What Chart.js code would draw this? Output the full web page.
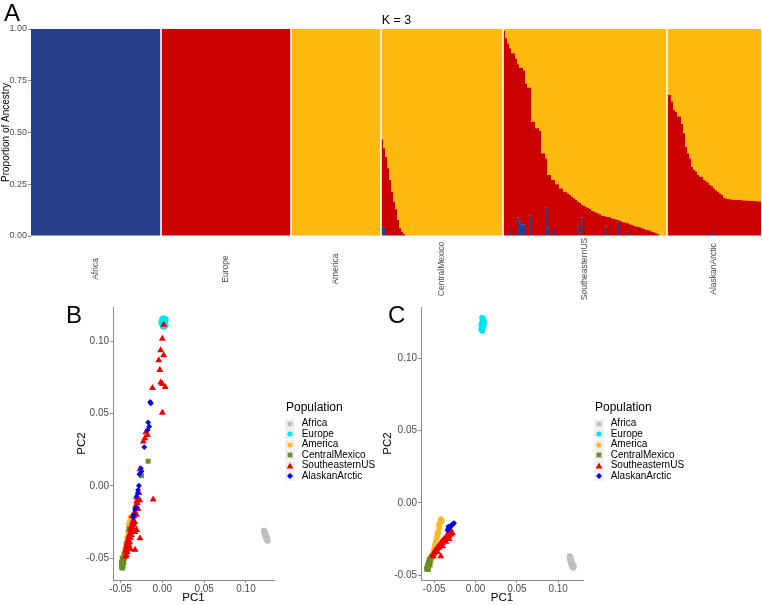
<!DOCTYPE html>
<html><head><meta charset="utf-8">
<script src="https://cdn.jsdelivr.net/npm/chart.js@4.4.1/dist/chart.umd.min.js"></script>
<style>
html,body{margin:0;padding:0;background:#fff;width:762px;height:605px;overflow:hidden;font-family:'Liberation Sans',Arial,Helvetica,sans-serif}
canvas{position:absolute}
.plabel{position:absolute;font-size:24px;line-height:24px;color:#000}
#ktitle{position:absolute;left:31px;width:731px;top:14px;font-size:12.5px;line-height:12.5px;text-align:center;color:#000}
.legend{position:absolute;color:#000;white-space:nowrap}
.ltitle{font-size:12px;line-height:14px;height:14px;margin-bottom:4.75px;padding-left:1px}
.litem{height:10.5px;font-size:10px;line-height:10.5px;display:flex;align-items:center}
.litem svg{background:#f0f0f0;margin-right:6.7px;flex:none}
</style></head><body>
<canvas id="cA" width="762" height="305" style="left:0;top:0"></canvas>
<canvas id="cB" width="381" height="305" style="left:0;top:300px"></canvas>
<canvas id="cC" width="381" height="305" style="left:381px;top:300px"></canvas>
<div class="plabel" style="left:4px;top:1px">A</div>
<div class="plabel" style="left:66px;top:303px">B</div>
<div class="plabel" style="left:388px;top:303px">C</div>
<div id="ktitle">K = 3</div>
<script>
// ---------- Panel A: ADMIXTURE proportions (K = 3), one bar per individual ----------
const groupNames = ['Africa','Europe','America','CentralMexico','SoutheasternUS','AlaskanArctic'];
const ancestryColors = ['#27408b','#cd0000','#ffb90f']; // K1 (blue), K2 (red), K3 (orange)

const africaBlue = [1,1,1,1,1,1,1,1,1,1, 1,1,1,1,1,1,1,1,1,1, 1,1,1,1,1,1,1,1,1,1, 1,1,1,1,1,1,1,1,1,1, 1,1,1,1,1,1,1,1,1,1, 1,1,1,1,1,1,1,1,1,1, 1,1,1,1,1];
const africaRed  = [0,0,0,0,0,0,0,0,0,0, 0,0,0,0,0,0,0,0,0,0, 0,0,0,0,0,0,0,0,0,0, 0,0,0,0,0,0,0,0,0,0, 0,0,0,0,0,0,0,0,0,0, 0,0,0,0,0,0,0,0,0,0, 0,0,0,0,0];
const europeBlue = [0,0,0,0,0,0,0,0,0,0, 0,0,0,0,0,0,0,0,0,0, 0,0,0,0,0,0,0,0,0,0, 0,0,0,0,0,0,0,0,0,0, 0,0,0,0,0,0,0,0,0,0, 0,0,0,0,0,0,0,0,0,0, 0,0,0,0,0];
const europeRed  = [1,1,1,1,1,1,1,1,1,1, 1,1,1,1,1,1,1,1,1,1, 1,1,1,1,1,1,1,1,1,1, 1,1,1,1,1,1,1,1,1,1, 1,1,1,1,1,1,1,1,1,1, 1,1,1,1,1,1,1,1,1,1, 1,1,1,1,1];
const americaBlue = [0,0,0,0,0,0,0,0,0,0, 0,0,0,0,0,0,0,0,0,0, 0,0,0,0,0,0,0,0,0,0, 0,0,0,0,0,0,0,0,0,0, 0,0,0,0,0];
const americaRed  = [0,0,0,0,0,0,0,0,0,0, 0,0,0,0,0,0,0,0,0,0, 0,0,0,0,0,0,0,0,0,0, 0,0,0,0,0,0,0,0,0,0, 0,0,0,0,0];
const cmBlue = [0.048,0.04,0,0,0,0,0,0,0,0, 0,0,0,0,0,0,0,0,0,0, 0,0,0,0,0,0,0,0,0,0, 0,0,0,0,0,0,0,0,0,0, 0,0,0,0,0,0,0,0,0,0, 0,0,0,0,0,0,0,0,0,0, 0];
const cmRed  = [0.419,0.384,0.383,0.327,0.27,0.214,0.166,0.129,0.077,0.037, 0.021,0.01,0,0,0,0,0,0,0,0, 0,0,0,0,0,0,0,0,0,0, 0,0,0,0,0,0,0,0,0,0, 0,0,0,0,0,0,0,0,0,0, 0,0,0,0,0,0,0,0,0,0, 0];
const seBlue = [0,0,0,0.034,0,0,0,0.089,0.07,0.057, 0.057,0,0,0.098,0,0,0,0,0,0, 0,0.137,0.04,0,0,0.034,0,0,0,0, 0,0,0,0,0,0,0,0.05,0,0.089, 0,0,0,0,0,0,0,0,0,0, 0,0.045,0,0,0,0,0,0.066,0,0, 0,0,0.02,0,0,0,0,0,0,0, 0,0,0,0,0,0,0,0,0,0, 0,0];
const seRed  = [0.99,0.955,0.93,0.873,0.883,0.883,0.858,0.741,0.743,0.756, 0.743,0.737,0.717,0.619,0.552,0.552,0.52,0.52,0.507,0.40, 0.40,0.238,0.255,0.295,0.27,0.236,0.25,0.25,0.23,0.23, 0.214,0.214,0.205,0.198,0.19,0.182,0.175,0.116,0.16,0.061, 0.147,0.14,0.137,0.13,0.121,0.118,0.113,0.11,0.105,0.098, 0.097,0.048,0.092,0.09,0.085,0.083,0.08,0.011,0.074,0.069, 0.066,0.063,0.041,0.057,0.053,0.05,0.046,0.045,0.042,0.037, 0.034,0.03,0.029,0.025,0.021,0.018,0.013,0.008,0,0, 0,0];
const akBlue = [0,0,0,0,0,0,0,0,0,0, 0,0,0,0,0,0,0,0,0,0, 0,0,0.02,0,0,0,0,0,0,0, 0,0,0,0,0,0,0,0,0,0, 0,0,0,0,0,0,0];
const akRed  = [0.681,0.681,0.65,0.609,0.6,0.577,0.577,0.541,0.496,0.431, 0.40,0.375,0.335,0.32,0.311,0.295,0.287,0.285,0.27,0.265, 0.258,0.246,0.22,0.23,0.22,0.214,0.205,0.198,0.185,0.181, 0.179,0.178,0.176,0.175,0.175,0.174,0.174,0.173,0.172,0.171, 0.17,0.17,0.169,0.169,0.168,0.168,0.167];
const yTicksA = [0, 0.25, 0.5, 0.75, 1];

// ---------- Panels B & C: PCA coordinates [PC1, PC2] ----------
const popNames = ['Africa','Europe','America','CentralMexico','SoutheasternUS','AlaskanArctic'];
const popColors = ['#bebebe','#00e5ee','#fbb829','#6b8e23','#ee0000','#0000ee'];
const popShapes = ['circle','circle','circle','rect','triangle','rectRot'];
const popRadius = [3,3,3,3.5,4,2.9];
const pcTicks = [-0.05, 0, 0.05, 0.10];

const bAfrica = [[0.1215,-0.0310],[0.1225,-0.0318],[0.1220,-0.0325],[0.1232,-0.0330],[0.1228,-0.0338],[0.1240,-0.0342],[0.1236,-0.0350],[0.1248,-0.0355],[0.1245,-0.0362],[0.1255,-0.0368],[0.1250,-0.0375],[0.1258,-0.0380],[0.1230,-0.0345],[0.1242,-0.0365]];
const bEurope = [[0.000,0.1155],[0.002,0.1160],[0.004,0.1150],[-0.001,0.1140],[0.001,0.1135],[0.003,0.1130],[0.000,0.1120],[0.002,0.1115],[0.004,0.1110],[0.001,0.1100],[0.003,0.1105],[-0.001,0.1125]];
const bAmerica = [[-0.038,-0.022],[-0.040,-0.027],[-0.041,-0.032],[-0.042,-0.036],[-0.043,-0.040],[-0.044,-0.043],[-0.045,-0.046],[-0.039,-0.025],[-0.042,-0.044],[-0.041,-0.038]];
const bCentralMexico = [[-0.048,-0.050],[-0.047,-0.052],[-0.049,-0.053],[-0.047,-0.054],[-0.048,-0.055],[-0.049,-0.056],[-0.047,-0.056],[-0.046,-0.053],[-0.045,-0.050],[-0.046,-0.048],[-0.044,-0.045],[-0.048,-0.057],[-0.017,0.017],[-0.025,0.007],[-0.040,-0.030],[-0.043,-0.040]];
const bSoutheasternUS = [[0.0016,0.1115],[0.000,0.1017],[-0.002,0.0938],[0.0016,0.0903],[-0.0043,0.0869],[-0.003,0.0801],[-0.002,0.0715],[0.000,0.0704],[-0.0118,0.0677],[0.0035,0.0683],[0.000,0.0506],[-0.0197,0.037],[-0.0209,0.0329],[-0.0177,0.0352],[-0.0228,0.0306],[-0.0268,0.0114],[-0.011,-0.0095],[-0.028,-0.005],[-0.0307,-0.0107],[-0.0307,-0.0306],[-0.0268,-0.0363],[-0.0327,-0.0443],[-0.030,-0.012],[-0.032,-0.014],[-0.029,-0.016],[-0.033,-0.018],[-0.031,-0.020],[-0.034,-0.021],[-0.035,-0.024],[-0.033,-0.025],[-0.036,-0.026],[-0.037,-0.028],[-0.035,-0.029],[-0.038,-0.030],[-0.036,-0.032],[-0.039,-0.033],[-0.037,-0.034],[-0.040,-0.035],[-0.038,-0.036],[-0.041,-0.037],[-0.039,-0.039],[-0.042,-0.040],[-0.040,-0.041],[-0.043,-0.042],[-0.041,-0.043],[-0.044,-0.045],[-0.042,-0.046],[-0.043,-0.048],[-0.044,-0.049],[-0.036,-0.021],[-0.034,-0.027],[-0.038,-0.044],[-0.033,-0.032],[-0.031,-0.008],[-0.027,-0.010]];
const bAlaskanArctic = [[-0.0138,0.057],[-0.0145,0.058],[-0.017,0.0438],[-0.0157,0.041],[-0.0177,0.0386],[-0.0216,0.0268],[-0.0256,0.012],[-0.0276,0.008],[-0.025,0.010],[-0.028,0.0],[-0.0295,-0.005],[-0.0307,-0.0073],[-0.0327,-0.0163],[-0.0346,-0.022],[-0.0307,-0.015],[-0.034,-0.020],[-0.029,-0.003]];

const cAfrica = [[0.114,-0.037],[0.115,-0.038],[0.114,-0.039],[0.116,-0.040],[0.115,-0.041],[0.117,-0.042],[0.116,-0.043],[0.118,-0.043],[0.117,-0.044],[0.118,-0.045],[0.116,-0.0415],[0.119,-0.044]];
const cEurope = [[0.008,0.128],[0.009,0.127],[0.010,0.126],[0.008,0.125],[0.009,0.124],[0.007,0.123],[0.010,0.123],[0.008,0.122],[0.009,0.121],[0.007,0.120],[0.008,0.119],[0.010,0.125]];
const cAmerica = [[-0.042,-0.0114],[-0.041,-0.0125],[-0.043,-0.014],[-0.044,-0.017],[-0.045,-0.020],[-0.046,-0.023],[-0.047,-0.025],[-0.048,-0.027],[-0.049,-0.029],[-0.050,-0.032],[-0.051,-0.034],[-0.052,-0.036],[-0.053,-0.038],[-0.054,-0.040],[-0.044,-0.015],[-0.046,-0.021]];
const cCentralMexico = [[-0.058,-0.044],[-0.059,-0.045],[-0.057,-0.046],[-0.058,-0.043],[-0.056,-0.042],[-0.057,-0.041],[-0.055,-0.040],[-0.056,-0.039],[-0.054,-0.038],[-0.059,-0.046],[-0.055,-0.043],[-0.053,-0.037]];
const cSoutheasternUS = [[-0.052,-0.036],[-0.050,-0.035],[-0.049,-0.033],[-0.048,-0.034],[-0.047,-0.032],[-0.046,-0.031],[-0.045,-0.030],[-0.044,-0.031],[-0.043,-0.029],[-0.042,-0.028],[-0.041,-0.027],[-0.040,-0.028],[-0.039,-0.026],[-0.038,-0.025],[-0.037,-0.026],[-0.036,-0.024],[-0.035,-0.023],[-0.034,-0.024],[-0.033,-0.022],[-0.032,-0.023],[-0.031,-0.021],[-0.030,-0.022],[-0.029,-0.020],[-0.028,-0.021],[-0.042,-0.037],[-0.051,-0.037],[-0.046,-0.034],[-0.040,-0.030],[-0.036,-0.027],[-0.032,-0.025]];
const cAlaskanArctic = [[-0.034,-0.019],[-0.033,-0.018],[-0.032,-0.0175],[-0.031,-0.017],[-0.030,-0.016],[-0.029,-0.0155],[-0.028,-0.015],[-0.027,-0.0145],[-0.026,-0.014],[-0.033,-0.0165]];

Chart.defaults.font.family = "'Liberation Sans', Arial, Helvetica, sans-serif";

// ---------- build panel A ----------
const blueAll = [].concat(africaBlue, europeBlue, americaBlue, cmBlue, seBlue, akBlue);
const redAll = [].concat(africaRed, europeRed, americaRed, cmRed, seRed, akRed);
const orangeAll = blueAll.map((b, i) => +(1 - b - redAll[i]).toFixed(3));
const groupSizes = [africaBlue.length, europeBlue.length, americaBlue.length, cmBlue.length, seBlue.length, akBlue.length];
const indLabels = blueAll.map((_, i) => 'ind' + (i + 1));

const groupPlugin = {
  id: 'groupLabels',
  afterDatasetsDraw(chart) {
    const xs = chart.scales.x, a = chart.chartArea, ctx = chart.ctx;
    ctx.save();
    ctx.strokeStyle = '#ffffff'; ctx.lineWidth = 1.6;
    let start = 0;
    groupSizes.forEach((n, g) => {
      if (g > 0) {
        const bx = (xs.getPixelForValue(start - 1) + xs.getPixelForValue(start)) / 2;
        ctx.beginPath(); ctx.moveTo(bx, a.top); ctx.lineTo(bx, a.bottom); ctx.stroke();
      }
      start += n;
    });
    ctx.restore();
  },
  afterDraw(chart) {
    const xs = chart.scales.x, ctx = chart.ctx;
    ctx.save();
    ctx.fillStyle = '#4d4d4d';
    ctx.font = "8.5px 'Liberation Sans', Arial, sans-serif";
    ctx.textAlign = 'center'; ctx.textBaseline = 'middle';
    let start = 0;
    groupSizes.forEach((n, g) => {
      const cx = (xs.getPixelForValue(start) + xs.getPixelForValue(start + n - 1)) / 2;
      ctx.save(); ctx.translate(cx, 269); ctx.rotate(-Math.PI / 2);
      ctx.fillText(groupNames[g], 0, 0); ctx.restore();
      start += n;
    });
    ctx.restore();
  }
};

new Chart(document.getElementById('cA'), {
  type: 'bar',
  data: { labels: indLabels, datasets: [
    { label: 'K1', data: blueAll, backgroundColor: ancestryColors[0] },
    { label: 'K2', data: redAll, backgroundColor: ancestryColors[1] },
    { label: 'K3', data: orangeAll, backgroundColor: ancestryColors[2] }
  ]},
  options: {
    responsive: false, animation: false, devicePixelRatio: 1,
    layout: { padding: { top: 29, bottom: 69, left: 0, right: 1 } },
    datasets: { bar: { barPercentage: 1, categoryPercentage: 1, borderWidth: 0, inflateAmount: 0 } },
    plugins: { legend: { display: false }, tooltip: { enabled: false } },
    scales: {
      x: { stacked: true, display: false },
      y: { stacked: true, min: 0, max: 1,
        afterBuildTicks: s => { s.ticks = yTicksA.map(v => ({ value: v })); },
        ticks: { callback: v => Number(v).toFixed(2), color: '#4d4d4d', font: { size: 9 }, padding: 1 },
        grid: { display: true, drawOnChartArea: false, drawTicks: true, tickLength: 3, color: '#8c8c8c' },
        border: { display: false },
        title: { display: true, text: 'Proportion of Ancestry', color: '#000', font: { size: 10 }, padding: 0 },
        afterFit: s => { s.width = 31; } }
    }
  },
  plugins: [groupPlugin]
});

// ---------- build panels B and C ----------
const fmt = v => Number(v).toFixed(2);
function pcaChart(id, sets, xr, yr, pad, yw) {
  const datasets = popNames.map((name, i) => ({
    label: name,
    data: sets[i].map(p => ({ x: p[0], y: p[1] })),
    pointStyle: popShapes[i], pointRadius: popRadius[i], pointHoverRadius: popRadius[i],
    backgroundColor: popColors[i], borderColor: popColors[i], borderWidth: 0,
    order: popNames.length - i
  }));
  return new Chart(document.getElementById(id), {
    type: 'scatter',
    data: { datasets },
    options: {
      responsive: false, animation: false, devicePixelRatio: 1,
      layout: { padding: pad },
      plugins: { tooltip: { enabled: false }, legend: { display: false } },
      scales: {
        x: { type: 'linear', min: xr[0], max: xr[1],
          afterBuildTicks: s => { s.ticks = pcTicks.map(v => ({ value: v })); },
          ticks: { callback: fmt, color: '#4d4d4d', font: { size: 10 }, padding: 0, maxRotation: 0, autoSkip: false },
          grid: { display: true, drawOnChartArea: false, tickLength: 3, color: '#8c8c8c' },
          border: { display: true, color: '#8c8c8c' },
          title: { display: true, text: 'PC1', color: '#000', font: { size: 11.5 }, padding: 0 },
          afterFit: s => { s.height = 25; } },
        y: { type: 'linear', min: yr[0], max: yr[1],
          afterBuildTicks: s => { s.ticks = pcTicks.map(v => ({ value: v })); },
          ticks: { callback: fmt, color: '#4d4d4d', font: { size: 10 }, padding: 1, autoSkip: false },
          grid: { display: true, drawOnChartArea: false, tickLength: 3, color: '#8c8c8c' },
          border: { display: true, color: '#8c8c8c' },
          title: { display: true, text: 'PC2', color: '#000', font: { size: 11.5 }, padding: 0 },
          afterFit: s => { s.width = yw; } }
      }
    }
  });
}

function shapeSvg(shape, color) {
  if (shape === 'circle') return '<circle cx="5" cy="5" r="2.6" fill="' + color + '"/>';
  if (shape === 'rect') return '<rect x="2.6" y="2.6" width="4.8" height="4.8" fill="' + color + '"/>';
  if (shape === 'triangle') return '<polygon points="5,1.6 8.3,7.6 1.7,7.6" fill="' + color + '"/>';
  return '<polygon points="5,2 8,5 5,8 2,5" fill="' + color + '"/>';
}
function buildLegend(left, top) {
  const d = document.createElement('div');
  d.className = 'legend';
  d.style.left = left + 'px'; d.style.top = top + 'px';
  let html = '<div class="ltitle">Population</div>';
  popNames.forEach((n, i) => {
    html += '<div class="litem"><svg width="10" height="10">' + shapeSvg(popShapes[i], popColors[i]) + '</svg><span>' + n + '</span></div>';
  });
  d.innerHTML = html;
  document.body.appendChild(d);
}

pcaChart('cB', [bAfrica, bEurope, bAmerica, bCentralMexico, bSoutheasternUS, bAlaskanArctic],
  [-0.059, 0.1335], [-0.0652, 0.1237], { top: 3, left: 75, right: 107, bottom: 0 }, 38);
pcaChart('cC', [cAfrica, cEurope, cAmerica, cCentralMexico, cSoutheasternUS, cAlaskanArctic],
  [-0.066, 0.130], [-0.0534, 0.1355], { top: 3, left: 0, right: 179, bottom: 0 }, 40);
buildLegend(285, 399.7);
buildLegend(594, 399.7);
</script>
</body></html>
